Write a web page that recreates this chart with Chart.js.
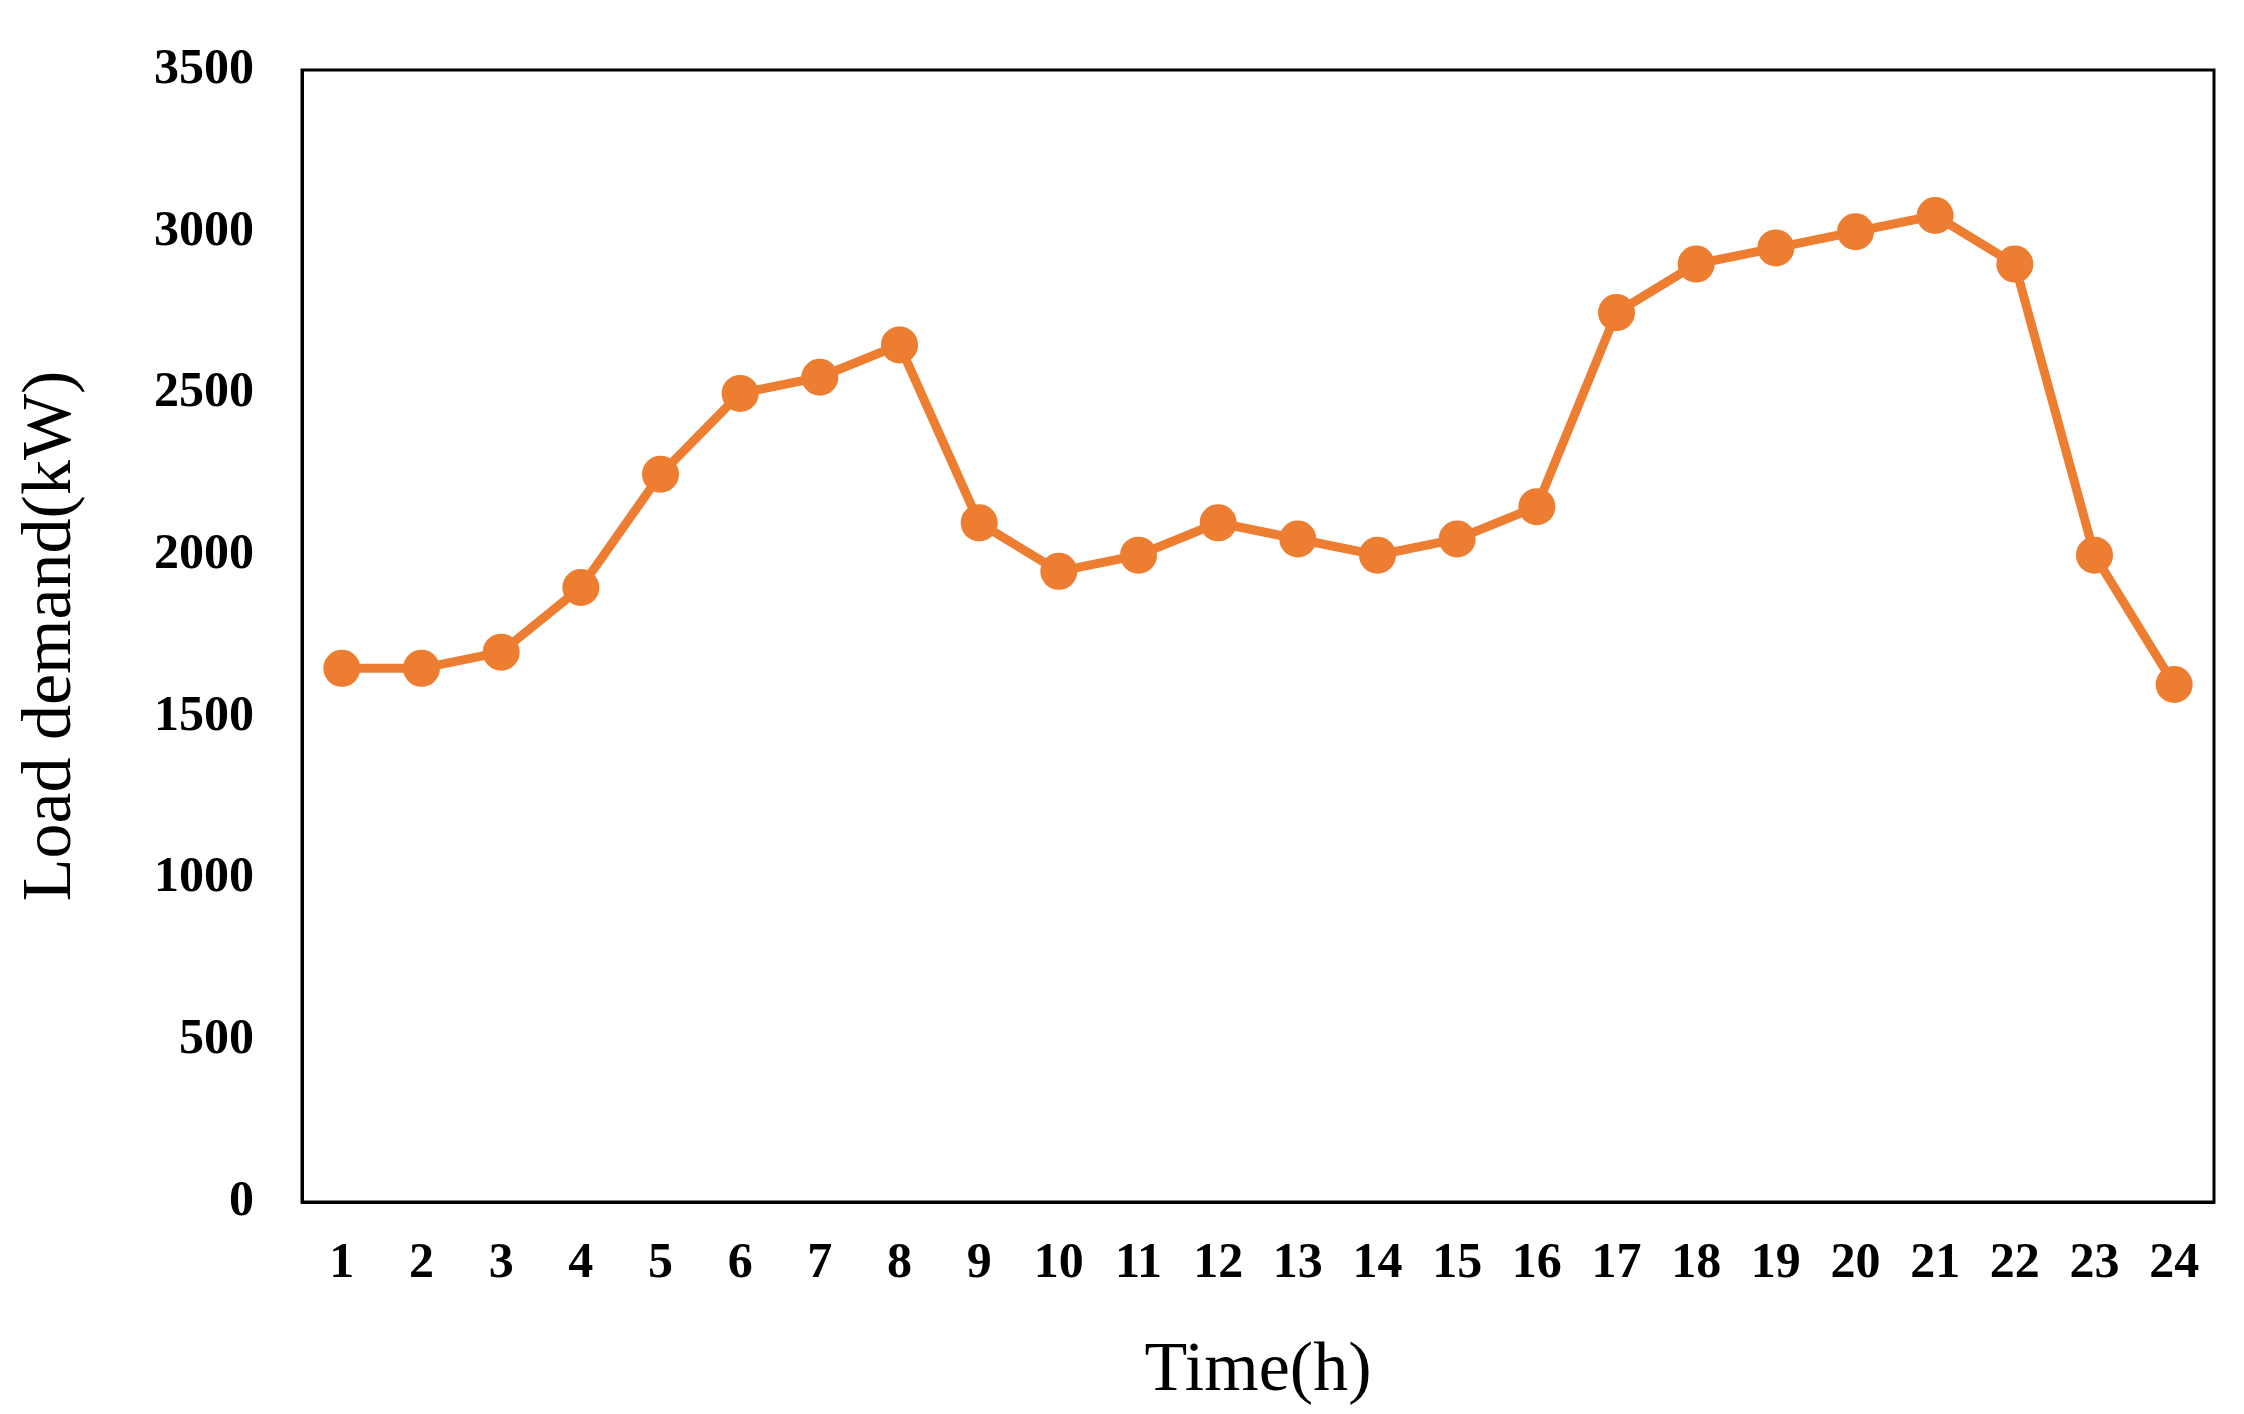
<!DOCTYPE html>
<html>
<head>
<meta charset="utf-8">
<script src="https://cdn.jsdelivr.net/npm/chart.js@4"></script>
<style>
  html, body { margin: 0; padding: 0; background: #fff; }
  canvas { display: block; }
</style>
</head>
<body>
<canvas id="chart" width="2244" height="1414"></canvas>
<script>
const hours = ['1','2','3','4','5','6','7','8','9','10','11','12','13','14','15','16','17','18','19','20','21','22','23','24'];
const loadDemand = [1650, 1650, 1700, 1900, 2250, 2500, 2550, 2650, 2100, 1950, 2000, 2100,
                    2050, 2000, 2050, 2150, 2750, 2900, 2950, 3000, 3050, 2900, 2000, 1600];

// frame around the plot area
const boxPlugin = {
    id: 'box',
    afterDraw(chart) {
        const { ctx, chartArea } = chart;
        ctx.save();
        ctx.strokeStyle = '#000';
        ctx.lineWidth = 3;
        ctx.strokeRect(chartArea.left, chartArea.top, chartArea.right - chartArea.left, chartArea.bottom - chartArea.top);
        ctx.restore();
    }
};

const tickFont = { family: 'Liberation Serif', size: 50, weight: 'bold' };
const titleFont = { family: 'Liberation Serif', size: 70 };

new Chart(document.getElementById('chart').getContext('2d'), {
    type: 'line',
    data: {
        labels: hours,
        datasets: [{
            label: 'Load demand',
            data: loadDemand,
            borderColor: '#ED7D31',
            backgroundColor: '#ED7D31',
            borderWidth: 9,
            pointRadius: 14,
            pointHoverRadius: 14,
            tension: 0
        }]
    },
    options: {
        responsive: false,
        animation: false,
        layout: { padding: { top: 34, right: 30, bottom: 0, left: 6 } },
        plugins: { legend: { display: false }, tooltip: { enabled: false } },
        scales: {
            x: {
                offset: true,
                grid: { display: false },
                border: { color: '#000', width: 3 },
                ticks: { color: '#000', font: tickFont, padding: 24, maxRotation: 0 },
                title: { display: true, text: 'Time(h)', color: '#000', font: titleFont, padding: { top: 12, bottom: 0 } }
            },
            y: {
                min: 0,
                max: 3500,
                grid: { display: false },
                border: { color: '#000', width: 3 },
                ticks: { stepSize: 500, color: '#000', font: tickFont, padding: 40,
                         callback: v => String(v) },
                title: { display: true, text: 'Load demand(kW)', color: '#000', font: titleFont, padding: { bottom: 20 } }
            }
        }
    },
    plugins: [boxPlugin]
});
</script>
</body>
</html>
